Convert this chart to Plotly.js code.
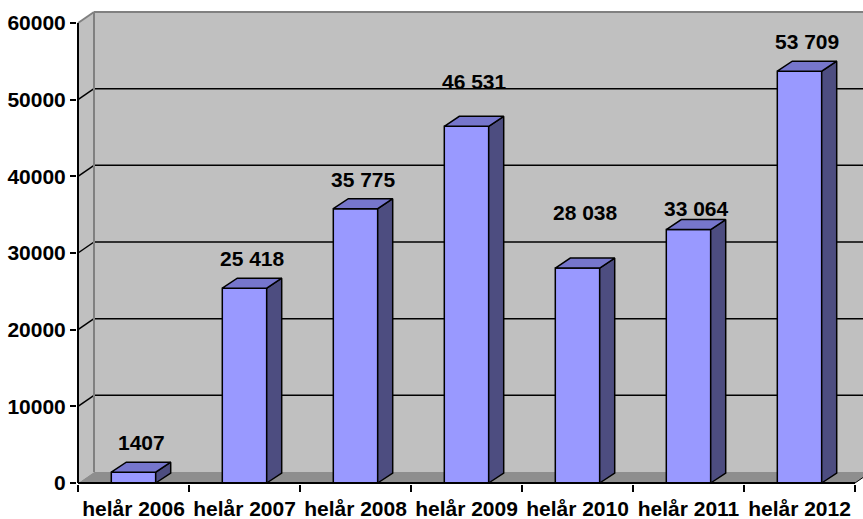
<!DOCTYPE html>
<html><head><meta charset="utf-8">
<script src="https://cdn.plot.ly/plotly-3.0.1.min.js"></script>
<style>html,body{margin:0;padding:0;background:#fff;overflow:hidden}</style>
</head><body><div id="chart" style="width:863px;height:519px"></div>
<script>
// ---- data ----
const categories = ["helår 2006","helår 2007","helår 2008","helår 2009","helår 2010","helår 2011","helår 2012"];
const values = [1407, 25418, 35775, 46531, 28038, 33064, 53709];
const valueLabels = ["1407","25 418","35 775","46 531","28 038","33 064","53 709"];
const yTickValues = [0, 10000, 20000, 30000, 40000, 50000, 60000];
const yTickLabels = ["0","10000","20000","30000","40000","50000","60000"];

// ---- geometry (pixels -> data units) ----
const W = 863, H = 519;
const catPx = 111;                 // pixels per category
const frontTopPx = 23, frontZeroPx = 483;
const unitsPerPx = 60000 / (frontZeroPx - frontTopPx);
const padPx = 1;
const marginL = 77, marginT = 11, marginB = H - frontZeroPx - padPx;
const plotW = W - marginL;
const plotH = H - marginT - marginB;
const xMin = -0.5 - padPx / catPx;
const xMax = xMin + plotW / catPx;
const yMin = -padPx * unitsPerPx;
const yMax = yMin + plotH * unitsPerPx;
const wdx = 16 / catPx, wdy = 11 * unitsPerPx;   // wall depth
const bdx = 15 / catPx, bdy = 10 * unitsPerPx;   // bar depth
const hw = 0.2;                                   // half bar width
const labelExtraShift = [0, 0, 0, 15, 26, -8, 0];

const idx = categories.map((c, i) => i);
const font = {family: "Liberation Sans, Arial, sans-serif", size: 21, color: "#000", weight: "bold"};

const traces = [];
traces.push({type: "bar", x: idx, y: values, width: 2 * hw,
  marker: {color: "#9999FF", line: {color: "#000", width: 1.5}},
  hoverinfo: "skip", showlegend: false});
values.forEach((v, i) => {
  traces.push({type: "scatter", mode: "lines", fill: "toself", fillcolor: "#4D4D80",
    x: [i + hw, i + hw + bdx, i + hw + bdx, i + hw, i + hw],
    y: [0, bdy, v + bdy, v, 0],
    line: {color: "#000", width: 1.5}, hoverinfo: "skip", showlegend: false});
  traces.push({type: "scatter", mode: "lines", fill: "toself", fillcolor: "#7676CC",
    x: [i - hw, i + hw, i + hw + bdx, i - hw + bdx, i - hw],
    y: [v, v, v + bdy, v + bdy, v],
    line: {color: "#000", width: 1.5}, hoverinfo: "skip", showlegend: false});
});
traces.push({type: "scatter", mode: "none", x: [0], y: [0], xaxis: "x2", hoverinfo: "skip", showlegend: false});

const L = -0.5, R = categories.length - 0.5, T = 60000;
const shapes = [];
const P = (pts) => "M" + pts.map(p => p[0] + "," + p[1]).join(" L") + " Z";
shapes.push({type: "rect", xref: "x", yref: "y", layer: "below", x0: L + wdx, x1: R + wdx, y0: wdy, y1: T + wdy,
  fillcolor: "#C0C0C0", line: {width: 0}});
shapes.push({type: "path", xref: "x", yref: "y", layer: "below",
  path: P([[L, 0], [L, T], [L + wdx, T + wdy], [L + wdx, wdy]]), fillcolor: "#C0C0C0", line: {width: 0}});
shapes.push({type: "path", xref: "x", yref: "y", layer: "below",
  path: P([[L, 0], [R, 0], [R + wdx, wdy], [L + wdx, wdy]]), fillcolor: "#8E8E8E", line: {width: 0}});
yTickValues.slice(1, -1).forEach(v => {
  shapes.push({type: "line", xref: "x", yref: "y", layer: "below", x0: L, y0: v, x1: L + wdx, y1: v + wdy, line: {color: "#000", width: 1.5}});
  shapes.push({type: "line", xref: "x", yref: "y", layer: "below", x0: L + wdx, y0: v + wdy, x1: R + wdx, y1: v + wdy, line: {color: "#000", width: 1.5}});
});
const gray = {color: "#808080", width: 2};
shapes.push({type: "line", xref: "x", yref: "y", layer: "below", x0: L + wdx, y0: wdy, x1: L + wdx, y1: T + wdy, line: gray});
shapes.push({type: "line", xref: "x", yref: "y", layer: "below", x0: L + wdx, y0: T + wdy, x1: R + wdx, y1: T + wdy, line: gray});
shapes.push({type: "line", xref: "x", yref: "y", layer: "below", x0: L, y0: T, x1: L + wdx, y1: T + wdy, line: gray});
shapes.push({type: "line", xref: "x", yref: "y", layer: "below", x0: R, y0: 0, x1: R + wdx, y1: wdy, line: {color: "#000", width: 1}});
// front axes lines
shapes.push({type: "line", xref: "x", yref: "y", layer: "above", x0: L, y0: 0, x1: L, y1: T, line: {color: "#000", width: 2}});
shapes.push({type: "line", xref: "x", yref: "y", layer: "above", x0: L, y0: 0, x1: R, y1: 0, line: {color: "#000", width: 2}});

const annotations = values.map((v, i) => ({
  xref: "x", yref: "y", x: i + bdx / 2, y: v + bdy, text: valueLabels[i],
  showarrow: false, yanchor: "middle", xanchor: "center", yshift: 19.5 + labelExtraShift[i], font: font
}));

const boundaries = [];
for (let k = 0; k <= categories.length; k++) boundaries.push(k - 0.5);

const layout = {
  width: W, height: H,
  margin: {l: marginL, r: 0, t: marginT, b: marginB, pad: 0},
  paper_bgcolor: "#fff", plot_bgcolor: "rgba(0,0,0,0)",
  showlegend: false, bargap: 0,
  xaxis: {range: [xMin, xMax], tickmode: "array", tickvals: boundaries, ticktext: boundaries.map(() => ""),
    ticks: "outside", ticklen: 7, tickwidth: 2, tickcolor: "#000", showgrid: false, zeroline: false, showline: false,
    fixedrange: true},
  xaxis2: {range: [xMin, xMax], overlaying: "x", anchor: "y", side: "bottom", tickmode: "array",
    tickvals: idx, ticktext: categories, ticks: "", tickfont: font, showgrid: false, zeroline: false, showline: false,
    ticklabelstandoff: 10, fixedrange: true},
  yaxis: {range: [yMin, yMax], tickmode: "array", tickvals: yTickValues, ticktext: yTickLabels,
    ticks: "outside", ticklen: 6, tickwidth: 2, tickcolor: "#000", tickfont: font,
    showgrid: false, zeroline: false, showline: false, fixedrange: true},
  shapes: shapes, annotations: annotations
};
Plotly.newPlot("chart", traces, layout, {staticPlot: true, displayModeBar: false});
</script></body></html>
